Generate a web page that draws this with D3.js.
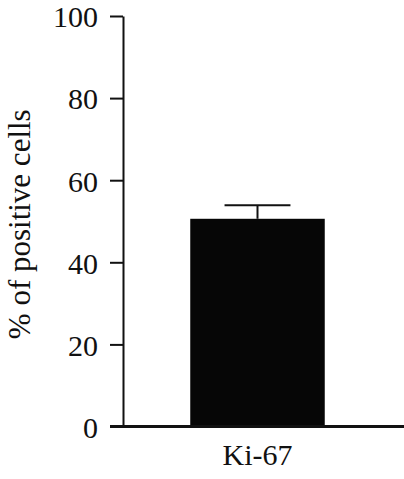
<!DOCTYPE html>
<html>
<head>
<meta charset="utf-8">
<script src="https://cdn.jsdelivr.net/npm/d3@7"></script>
<style>
  body { margin: 0; background: #fff; }
  svg { display: block; }
  text { font-family: "Times New Roman", Times, "Liberation Serif", serif; fill: #111; }
</style>
</head>
<body>
<svg id="chart" width="404" height="479"></svg>
<script>
var categories = ["Ki-67"];
var means = [50.6];
var errors = [3.3];
var yTicks = [0, 20, 40, 60, 80, 100];
var yTitle = "% of positive cells";

var serif = "'Times New Roman', Times, 'Liberation Serif', serif";

var svg = d3.select("#chart"),
    chartW = 404,
    plotLeft = 123,
    plotTop = 16,
    plotBottom = 426.5,
    tickLen = 13;

var y = d3.scaleLinear().domain([0, 100]).range([plotBottom, plotTop]);
var x = d3.scaleBand().domain(categories).range([plotLeft, 392])
    .paddingInner(0).paddingOuter(0.5);

// bars
svg.selectAll("rect.bar").data(categories).enter().append("rect")
    .attr("class", "bar")
    .attr("x", function (d) { return x(d); })
    .attr("width", x.bandwidth())
    .attr("y", function (d, i) { return y(means[i]); })
    .attr("height", function (d, i) { return y(0) - y(means[i]); })
    .attr("fill", "#060606");

// error bars (upper only)
var capW = x.bandwidth() * 0.49;
var eb = svg.selectAll("g.err").data(categories).enter().append("g")
    .attr("class", "err")
    .attr("stroke", "#111")
    .attr("stroke-width", 2);
eb.append("line")
    .attr("x1", function (d) { return x(d) + x.bandwidth() / 2; })
    .attr("x2", function (d) { return x(d) + x.bandwidth() / 2; })
    .attr("y1", function (d, i) { return y(means[i]); })
    .attr("y2", function (d, i) { return y(means[i] + errors[i]); });
eb.append("line")
    .attr("x1", function (d) { return x(d) + x.bandwidth() / 2 - capW / 2; })
    .attr("x2", function (d) { return x(d) + x.bandwidth() / 2 + capW / 2; })
    .attr("y1", function (d, i) { return y(means[i] + errors[i]); })
    .attr("y2", function (d, i) { return y(means[i] + errors[i]); });

// y axis
var yAxis = svg.append("g")
    .attr("transform", "translate(" + plotLeft + ",0)")
    .call(d3.axisLeft(y).tickValues(yTicks).tickSize(tickLen).tickSizeOuter(0).tickPadding(12));
yAxis.attr("font-family", serif);
yAxis.select(".domain").attr("stroke", "#111").attr("stroke-width", 2);
yAxis.selectAll(".tick line").attr("stroke", "#111").attr("stroke-width", 2);
yAxis.selectAll(".tick text")
    .style("font-family", serif)
    .attr("font-size", 30)
    .attr("fill", "#111")
    .attr("dy", "0.36em");

// x axis baseline
svg.append("line")
    .attr("x1", plotLeft - tickLen).attr("x2", chartW)
    .attr("y1", y(0)).attr("y2", y(0))
    .attr("stroke", "#111").attr("stroke-width", 3);

var xAxis = svg.append("g")
    .attr("transform", "translate(0," + y(0) + ")")
    .call(d3.axisBottom(x).tickSize(0).tickPadding(17));
xAxis.attr("font-family", serif);
xAxis.select(".domain").remove();
xAxis.selectAll(".tick text")
    .style("font-family", serif)
    .attr("font-size", 30)
    .attr("fill", "#111");

// y title
svg.append("text")
    .attr("transform", "translate(30," + ((plotTop + plotBottom) / 2 + 3) + ") rotate(-90)")
    .attr("text-anchor", "middle")
    .style("font-family", serif)
    .attr("font-size", 31)
    .text(yTitle);
</script>
</body>
</html>
